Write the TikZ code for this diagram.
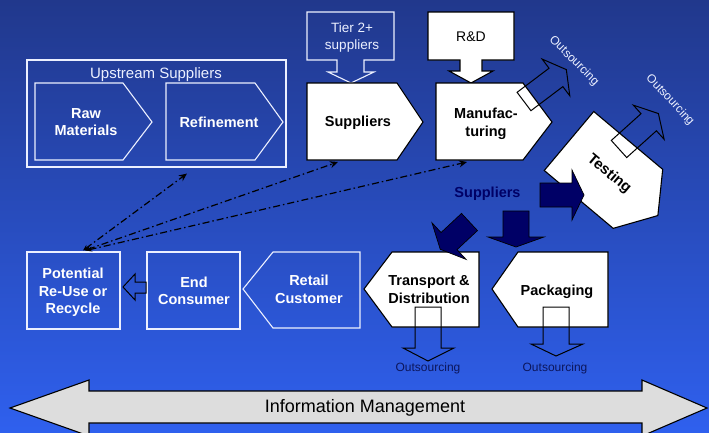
\documentclass[tikz,border=0pt]{standalone}
\usepackage{fontspec}
\setmainfont{Liberation Sans}
\usetikzlibrary{arrows.meta}
\definecolor{bgtop}{RGB}{33,56,140}
\definecolor{bgbot}{RGB}{47,96,238}
\definecolor{navy}{RGB}{0,0,102}
\definecolor{softwhite}{RGB}{236,240,255}
\definecolor{infogray}{RGB}{221,221,221}
\definecolor{smalltxt}{RGB}{12,22,92}
\tikzset{
  wline/.style={draw=softwhite,line width=1.1pt},
  bline/.style={draw=black,fill=white,line width=1.1pt},
  navyarr/.style={draw=black,fill=navy,line width=0.7pt},
  openarr/.style={draw=black,line width=1pt},
  boldw/.style={text=white,font=\bfseries\fontsize{14.5}{17.5}\selectfont,align=center,inner sep=0pt},
  boldk/.style={text=black,font=\bfseries\fontsize{14.5}{17.5}\selectfont,align=center,inner sep=0pt},
  plainw/.style={text=softwhite,font=\fontsize{13.5}{17}\selectfont,align=center,inner sep=0pt},
  smallout/.style={font=\fontsize{12}{14}\selectfont,inner sep=0pt},
  linkline/.style={draw=black,line width=1.2pt,dash pattern=on 7pt off 3pt on 1.5pt off 3pt,
    {Stealth[length=6pt,width=5pt]}-{Stealth[length=8pt,width=7pt]}},
  % outlined block arrow used for the outsourcing hints
  outsrc/.pic={\draw[openarr] (0,-11.5) -- (40,-11.5) -- (40,-23) -- (53,0) -- (40,23) -- (40,11.5) -- (0,11.5) -- cycle;},
  % dark block arrow pointing into Transport & Distribution
  navydiag/.pic={\draw[navyarr] (0,-11.7) -- (28,-11.7) -- (28,-25) -- (40,0) -- (28,25) -- (28,11.7) -- (0,11.7) -- cycle;}
}
\begin{document}
\begin{tikzpicture}[x=1pt,y=-1pt]
\useasboundingbox (0,0) rectangle (709,432);
\clip (0,0) rectangle (709,432);
% background
\fill[top color=bgtop,bottom color=bgbot] (0,0) rectangle (709,432);

% information management band
\draw[draw=black,fill=infogray,line width=1.1pt]
  (10,408) -- (89,380) -- (89,391) -- (642,391) -- (642,380) -- (707,408)
  -- (642,436) -- (642,423) -- (89,423) -- (89,436) -- cycle;
\node[font=\fontsize{18}{20}\selectfont,inner sep=0pt] (info) at (365,408) {Information Management};

% upstream suppliers group
\node[wline,minimum width=259pt,minimum height=107pt,inner sep=0pt] (upstream) at (156.5,113.5) {};
\node[plainw,font=\fontsize{15}{17}\selectfont] (upstitle) at (156,75) {Upstream Suppliers};
\draw[wline] (35,83) -- (123,83) -- (152,122) -- (123,160) -- (35,160) -- cycle;
\node[boldw] (raw) at (86,122) {Raw\\Materials};
\draw[wline] (166,83) -- (255,83) -- (283,122) -- (255,160) -- (166,160) -- cycle;
\node[boldw] (refine) at (219,122) {Refinement};

% tier 2+ callout
\draw[wline] (307,12) -- (394,12) -- (394,60) -- (364,60) -- (364,72) -- (374,72)
  -- (351,83) -- (328,72) -- (337,72) -- (337,60) -- (307,60) -- cycle;
\node[plainw] (tier) at (352,37.5) {Tier 2+\\suppliers};

% R&D callout
\draw[bline] (428,12) -- (514,12) -- (514,60) -- (482,60) -- (482,71) -- (493,71)
  -- (471,83) -- (449,71) -- (460,71) -- (460,60) -- (428,60) -- cycle;
\node[font=\fontsize{14}{16}\selectfont,inner sep=0pt] (rnd) at (471,37) {R\&D};

% suppliers and manufacturing
\draw[bline] (307,83) -- (397,83) -- (423,122) -- (397,160) -- (307,160) -- cycle;
\node[boldk] (supp) at (358,123) {Suppliers};
\coordinate (supp-b) at (338,162);
\draw[bline] (436,83) -- (523,83) -- (552,122) -- (523,160) -- (436,160) -- cycle;
\node[boldk] (manuf) at (486,124) {Manufac-\\turing};
\coordinate (manuf-b) at (467,162);
\pic[rotate=37] at (524,101.5) {outsrc};
\node[smallout,text=softwhite,rotate=-45] (out1) at (574,61) {Outsourcing};

% testing
\begin{scope}[shift={(569,141)},rotate=-40]
  \draw[bline] (0,-38.5) -- (90,-38.5) -- (116,0) -- (90,38.5) -- (0,38.5) -- cycle;
\end{scope}
\node[boldk,font=\bfseries\fontsize{15}{17}\selectfont,rotate=-40] (test) at (609,174) {Testing};
\pic[rotate=42] at (619,149) {outsrc};
\node[smallout,text=softwhite,rotate=-47] (out2) at (670,100) {Outsourcing};

% second-tier supplier arrows
\node[boldk,text=navy] (supp2) at (487.5,194) {Suppliers};
\draw[navyarr] (540,183) -- (572,183) -- (572,170) -- (584,195) -- (572,220) -- (572,207) -- (540,207) -- cycle;
\draw[navyarr] (503,211) -- (529,211) -- (529,237) -- (544,237) -- (516,247) -- (488,237) -- (503,237) -- cycle;

% transport and packaging
\draw[bline] (364,289) -- (392,252) -- (479,252) -- (479,327) -- (392,327) -- cycle;
\node[boldk] (trans) at (429,289.5) {Transport \&\\Distribution};
\draw[bline] (492,289) -- (518,252) -- (608,252) -- (608,327) -- (518,327) -- cycle;
\node[boldk] (pack) at (557,292) {Packaging};
\pic[rotate=-137] at (469.5,222) {navydiag};

\draw[openarr] (415,307) -- (441,307) -- (441,348) -- (454,348) -- (428,361) -- (403,348) -- (415,348) -- cycle;
\node[smallout,text=smalltxt] (out3) at (428,368) {Outsourcing};
\draw[openarr] (543,307) -- (569,307) -- (569,344) -- (583,344) -- (556,356) -- (531,344) -- (543,344) -- cycle;
\node[smallout,text=smalltxt] (out4) at (555,368) {Outsourcing};

% downstream chain
\draw[wline] (243,289) -- (273,252) -- (360,252) -- (360,328) -- (273,328) -- cycle;
\node[boldw] (retail) at (309,289.5) {Retail\\Customer};
\node[wline,minimum width=93pt,minimum height=77pt,inner sep=0pt] (endc) at (193.5,290.5) {};
\node[boldw] at (194,291) {End\\Consumer};
\node[wline,minimum width=93pt,minimum height=77pt,inner sep=0pt] (recycle) at (73.5,290.5) {};
\node[boldw] at (73,292.5) {Potential\\Re-Use or\\Recycle};
\draw[openarr] (146,282) -- (135,282) -- (135,274) -- (123,287) -- (135,300) -- (135,293) -- (146,293) -- cycle;

% feedback links
\draw[linkline] ([xshift=9.5pt,yshift=1pt]recycle.north) -- ([xshift=30.5pt,yshift=-6pt]upstream.south);
\draw[linkline] ([xshift=11pt,yshift=1pt]recycle.north) -- (supp-b);
\draw[linkline] ([xshift=12.5pt,yshift=1pt]recycle.north) -- (manuf-b);
\end{tikzpicture}
\end{document}
